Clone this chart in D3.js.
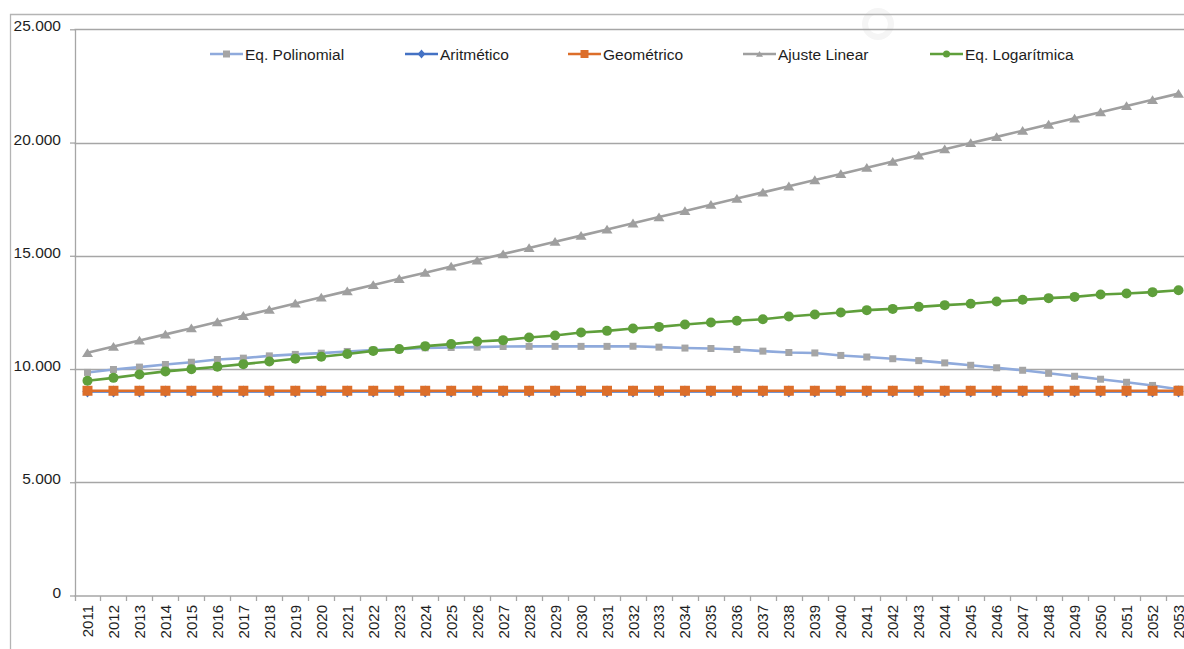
<!DOCTYPE html>
<html>
<head>
<meta charset="utf-8">
<script src="https://cdn.jsdelivr.net/npm/d3@7"></script>
<style>
  html, body { margin: 0; padding: 0; background: #fff; }
  svg { display: block; font-family: "Liberation Sans", Arial, sans-serif; }
</style>
</head>
<body>
<svg id="chart" width="1184" height="649"></svg>
<script>
// Population projections by year, per fitting method
const years = [2011,2012,2013,2014,2015,2016,2017,2018,2019,2020,2021,2022,2023,2024,2025,2026,2027,2028,2029,2030,2031,2032,2033,2034,2035,2036,2037,2038,2039,2040,2041,2042,2043,2044,2045,2046,2047,2048,2049,2050,2051,2052,2053];

const polinomial = [9850,9980,10085,10200,10300,10420,10480,10580,10645,10700,10775,10835,10880,10935,10950,10965,10995,11000,11000,11000,11000,11005,10965,10925,10905,10865,10790,10730,10710,10600,10530,10455,10370,10270,10165,10055,9945,9810,9680,9550,9415,9275,9110];

const aritmetico = [9010,9010,9010,9010,9010,9010,9010,9010,9010,9010,9010,9010,9010,9010,9010,9010,9010,9010,9010,9010,9010,9010,9010,9010,9010,9010,9010,9010,9010,9010,9010,9010,9010,9010,9010,9010,9010,9010,9010,9010,9010,9010,9010];

const geometrico = [9040,9040,9040,9040,9040,9040,9040,9040,9040,9040,9040,9040,9040,9040,9040,9040,9040,9040,9040,9040,9040,9040,9040,9040,9040,9040,9040,9040,9040,9040,9040,9040,9040,9040,9040,9040,9040,9040,9040,9040,9040,9040,9040];

const ajusteLinear = [10715,10990,11260,11530,11805,12075,12350,12620,12895,13165,13440,13710,13985,14255,14530,14800,15075,15345,15620,15890,16165,16435,16710,16980,17255,17525,17800,18070,18345,18615,18890,19160,19435,19705,19980,20250,20525,20795,21070,21340,21615,21885,22160];

const logaritmica = [9480,9610,9760,9895,9995,10100,10215,10335,10450,10540,10660,10800,10880,11010,11100,11215,11275,11395,11480,11615,11685,11790,11860,11965,12055,12130,12200,12320,12410,12495,12600,12655,12745,12820,12880,12980,13055,13130,13185,13290,13335,13395,13480];

const yTicks = [0, 5000, 10000, 15000, 20000, 25000];

const seriesNames = ["Eq. Polinomial", "Aritmético", "Geométrico", "Ajuste Linear", "Eq. Logarítmica"];

// Series styling, in drawing order
const series = [
  { name: seriesNames[0], values: polinomial, line: "#8faadc", fill: "#a5a5a5", marker: "square", size: 7, width: 2.6 },
  { name: seriesNames[1], values: aritmetico, line: "#4472c4", fill: "#4472c4", marker: "diamond", size: 12, width: 2.6 },
  { name: seriesNames[2], values: geometrico, line: "#dc6e2a", fill: "#dc6e2a", marker: "square", size: 10, width: 2.6 },
  { name: seriesNames[3], values: ajusteLinear, line: "#9f9f9f", fill: "#9f9f9f", marker: "triangle", size: 11, width: 2.6 },
  { name: seriesNames[4], values: logaritmica, line: "#5f9f3b", fill: "#5f9f3b", marker: "circle", size: 10, width: 2.6 }
];

const svg = d3.select("#chart");
const gridColor = "#a6a6a6";
const textColor = "#1e1e1e";
const labelFmt = v => v === 0 ? "0" : d3.format(",")(v).replace(/,/g, ".");

// Faint mark near the top edge
svg.append("circle")
  .attr("cx", 878).attr("cy", 24).attr("r", 13)
  .attr("fill", "none").attr("stroke", "#f5f5f5").attr("stroke-width", 6);

// Outer chart frame
svg.append("path")
  .attr("d", "M10.5,649 V14.5 H1184")
  .attr("fill", "none")
  .attr("stroke", "#b4b4b4")
  .attr("stroke-width", 1.3);

const x = d3.scaleBand().domain(years).range([74.5, 1191.5]).padding(0);
const y = d3.scaleLinear().domain([0, 25000]).range([595.5, 29.3]);

// Horizontal gridlines
svg.append("g")
  .selectAll("line")
  .data(yTicks.filter(t => t > 0))
  .join("line")
  .attr("x1", 74.5).attr("x2", 1191.5)
  .attr("y1", d => Math.round(y(d)) + 0.5).attr("y2", d => Math.round(y(d)) + 0.5)
  .attr("stroke", gridColor).attr("stroke-width", 1.3);

// Y axis
const yAxis = svg.append("g")
  .attr("transform", "translate(75,0)")
  .call(d3.axisLeft(y).tickValues(yTicks).tickFormat(labelFmt).tickSize(5).tickSizeOuter(0));
yAxis.select(".domain").attr("stroke", gridColor).attr("stroke-width", 1.3);
yAxis.selectAll(".tick line").attr("stroke", gridColor).attr("stroke-width", 1.3);
yAxis.selectAll(".tick text")
  .attr("x", -14)
  .attr("dy", "0.1em")
  .attr("fill", textColor)
  .style("font-size", "15.5px")
  .style("font-family", "'Liberation Sans', Arial, sans-serif");

// X axis with ticks at category boundaries
const xAxisG = svg.append("g").attr("transform", "translate(0,596)");
xAxisG.append("line")
  .attr("x1", 74.5).attr("x2", 1191.5).attr("y1", 0).attr("y2", 0)
  .attr("stroke", gridColor).attr("stroke-width", 1.3);
xAxisG.selectAll("line.tk")
  .data(years)
  .join("line")
  .attr("class", "tk")
  .attr("x1", d => Math.round(x(d)) + 0.5).attr("x2", d => Math.round(x(d)) + 0.5)
  .attr("y1", 0).attr("y2", 5)
  .attr("stroke", gridColor).attr("stroke-width", 1.3);
xAxisG.selectAll("text")
  .data(years)
  .join("text")
  .attr("transform", d => `translate(${x(d) + x.bandwidth() / 2 + 5.5},9) rotate(-90)`)
  .attr("text-anchor", "end")
  .attr("fill", textColor)
  .style("font-size", "15px")
  .text(d => d);

// Marker shapes
function markerPath(type, size) {
  const h = size / 2;
  if (type === "square") return `M${-h},${-h}H${h}V${h}H${-h}Z`;
  if (type === "diamond") return `M0,${-h}L${h * 0.85},0L0,${h}L${-h * 0.85},0Z`;
  if (type === "triangle") return `M0,${-h * 0.85}L${h},${h * 0.75}L${-h},${h * 0.75}Z`;
  return d3.arc()({ innerRadius: 0, outerRadius: h, startAngle: 0, endAngle: 2 * Math.PI });
}

const cx = d => x(d) + x.bandwidth() / 2;
const line = d3.line().x(d => cx(d.year)).y(d => y(d.value));

series.forEach(s => {
  const pts = years.map((yr, i) => ({ year: yr, value: s.values[i] }));
  const g = svg.append("g");
  g.append("path")
    .datum(pts)
    .attr("d", line)
    .attr("fill", "none")
    .attr("stroke", s.line)
    .attr("stroke-width", s.width)
    .attr("stroke-linejoin", "round");
  g.selectAll("path.mk")
    .data(pts)
    .join("path")
    .attr("class", "mk")
    .attr("transform", d => `translate(${cx(d.year)},${y(d.value)})`)
    .attr("d", markerPath(s.marker, s.size))
    .attr("fill", s.fill);
});

// Legend
const legendX = [210, 405, 568, 743, 930];
const legend = svg.append("g").attr("transform", "translate(0,54)");
series.forEach((s, i) => {
  const g = legend.append("g").attr("transform", `translate(${legendX[i]},0)`);
  g.append("line").attr("x1", 0).attr("x2", 33).attr("y1", 0).attr("y2", 0)
    .attr("stroke", s.line).attr("stroke-width", 2.6);
  g.append("path")
    .attr("transform", "translate(16.5,0)")
    .attr("d", markerPath(s.marker, s.marker === "diamond" ? 9 : (s.marker === "square" && i === 2 ? 8 : 7)))
    .attr("fill", s.fill);
  g.append("text")
    .attr("x", 35).attr("y", 0).attr("dy", "0.36em")
    .attr("fill", textColor)
    .style("font-size", "15.5px")
    .text(s.name);
});
</script>
</body>
</html>
